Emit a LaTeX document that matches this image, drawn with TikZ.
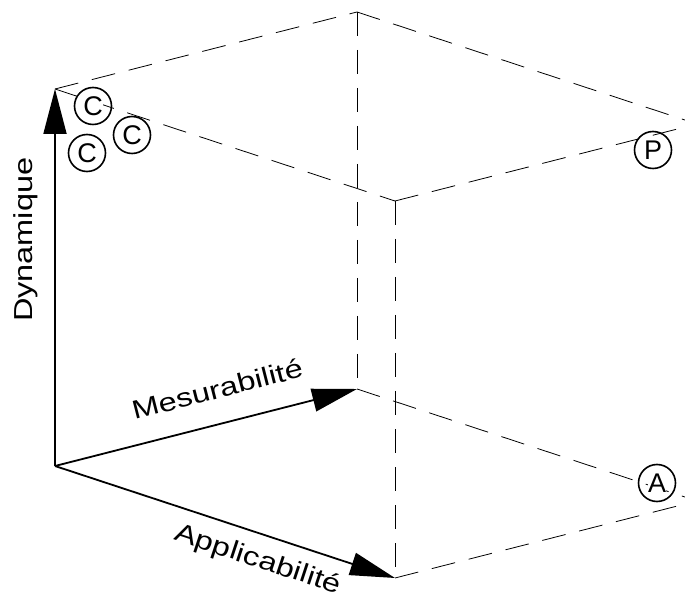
\documentclass[tikz,border=0pt]{standalone}
\usepackage{fontspec}
\newfontfamily\labelfont[FakeStretch=1.25]{Liberation Sans}
\newfontfamily\tagfont{Liberation Sans}
\usetikzlibrary{arrows.meta}
\tikzset{
    % Lines
    axis tip/.tip={Triangle[length=45pt,width=23pt]},
    axis/.style={line width=1.8pt,-{axis tip}},
    hidden/.style={line width=0.8pt,dash pattern=on 24pt off 14pt},
    %
    % Labels and tags
    axis label/.style={font=\labelfont\fontsize{26}{30}\selectfont,inner xsep=0pt,sloped},
    tag letter/.style={fill=white,inner sep=0.3pt,font=\tagfont\fontsize{27}{28}\selectfont},
    tag/.style={circle,draw,line width=1.6pt,minimum size=37pt,inner sep=0pt,label={[tag letter]center:#1}}
}

\begin{document}
\begin{tikzpicture}[x=1pt,y=1pt]
        \useasboundingbox (0,0) rectangle (685,592);
        \clip (0,0) rectangle (685,592);
        % corners of the cube
        \coordinate (O) at (55,126);
        \coordinate (D) at (55,503);
        \coordinate (M) at (357,203);
        \coordinate (A) at (395,14);
        \coordinate (DM) at (357,580);
        \coordinate (DA) at (395,391);
        \coordinate (MA) at (697,91);
        \coordinate (DMA) at (697,468);
        % hidden edges
        \draw[hidden] (D) -- (DM);
        \draw[hidden] (D) -- (DA);
        \draw[hidden] (DM) -- (DMA);
        \draw[hidden] (DA) -- (DMA);
        \draw[hidden] (DM) -- (M);
        \draw[hidden] (DA) -- (A);
        \draw[hidden] (M) -- (MA);
        \draw[hidden] (A) -- (MA);
        % axes
        \draw[axis] (O) -- (D) node[axis label, pos=.6, above, inner ysep=16pt] {Dynamique};
        \draw[axis] (O) -- (M) node[axis label, pos=.565, above, inner ysep=24pt] {Mesurabilité};
        \draw[axis] (O) -- (A) node[axis label, pos=.62, below, inner ysep=13pt] {Applicabilité};
        % tags
        \node[tag=C] (c1) at (93,486) {};
        \node[tag=C] (c2) at (132,457) {};
        \node[tag=C] (c3) at (87,439) {};
        \node[tag=P] (p) at (653,442) {};
        \node[tag=A] (a) at (657,109) {};
    \end{tikzpicture}
\end{document}
